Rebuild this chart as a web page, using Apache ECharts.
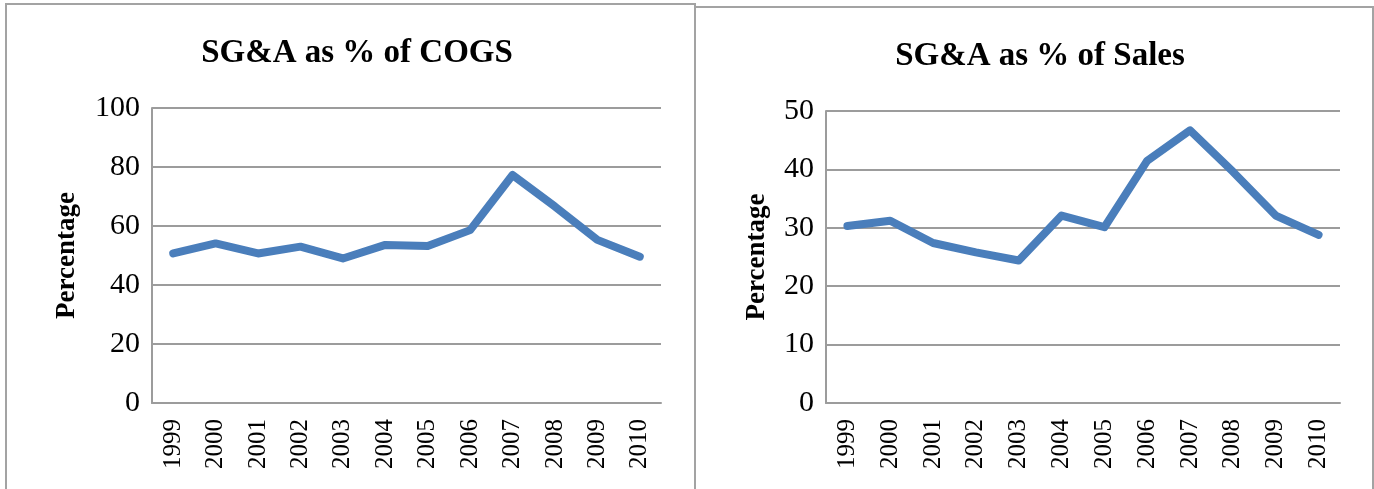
<!DOCTYPE html>
<html>
<head>
<meta charset="utf-8">
<style>
  html, body { margin: 0; padding: 0; background: #ffffff; }
  #chart { width: 1374px; height: 489px; }
</style>
<script src="https://cdn.jsdelivr.net/npm/echarts@6/dist/echarts.min.js"></script>
</head>
<body>
<div id="chart"></div>
<script>
// Fiscal years shared by both panels
const years = ['1999','2000','2001','2002','2003','2004','2005','2006','2007','2008','2009','2010'];

// SG&A expressed as a percentage of cost of goods sold
const sgaPctCogs = [50.7, 54.1, 50.7, 53.0, 49.0, 53.6, 53.2, 58.6, 77.3, 66.6, 55.3, 49.6];

// SG&A expressed as a percentage of sales
const sgaPctSales = [30.3, 31.2, 27.4, 25.8, 24.4, 32.1, 30.1, 41.5, 46.7, 39.6, 32.1, 28.8];

const leftTitle = 'SG&A as % of COGS';
const rightTitle = 'SG&A as % of Sales';
const yName = 'Percentage';

const serif = '"Liberation Serif", "Times New Roman", serif';
const gridColor = '#9c9c9c';
const lineColor = '#4a7ebb';

function xAxisFor(gridIndex) {
  return {
    type: 'category',
    gridIndex: gridIndex,
    data: years,
    boundaryGap: true,
    axisLine: { show: true, lineStyle: { color: gridColor, width: 2 } },
    axisTick: { show: false },
    axisLabel: {
      rotate: 90,
      margin: 16,
      color: '#000',
      fontFamily: serif,
      fontSize: 25
    }
  };
}

function yAxisFor(gridIndex, max, interval, nameGap) {
  return {
    type: 'value',
    gridIndex: gridIndex,
    min: 0,
    max: max,
    interval: interval,
    name: yName,
    nameLocation: 'middle',
    nameGap: nameGap,
    nameTextStyle: { color: '#000', fontFamily: serif, fontSize: 27, fontWeight: 'bold' },
    axisLine: { show: true, lineStyle: { color: gridColor, width: 2 } },
    axisTick: { show: false },
    splitLine: { show: true, lineStyle: { color: gridColor, width: 2 } },
    axisLabel: { color: '#000', fontFamily: serif, fontSize: 30, margin: 12 }
  };
}

function lineSeries(index, values) {
  return {
    type: 'line',
    xAxisIndex: index,
    yAxisIndex: index,
    data: values,
    showSymbol: false,
    symbol: 'none',
    smooth: false,
    lineStyle: { color: lineColor, width: 8, cap: 'round', join: 'round' },
    animation: false
  };
}

const chart = echarts.init(document.getElementById('chart'), null, { renderer: 'canvas' });

chart.setOption({
  backgroundColor: '#ffffff',
  animation: false,
  title: [
    {
      text: leftTitle, left: 352, top: 32, textAlign: 'center',
      textStyle: { fontFamily: serif, fontWeight: 'bold', fontSize: 33, color: '#000' }
    },
    {
      text: rightTitle, left: 1035, top: 35, textAlign: 'center',
      textStyle: { fontFamily: serif, fontWeight: 'bold', fontSize: 33, color: '#000' }
    }
  ],
  graphic: [
    { type: 'rect', shape: { x: 6, y: 4, width: 689, height: 520 },
      style: { fill: 'none', stroke: '#a3a3a3', lineWidth: 2 }, z: 0 },
    { type: 'rect', shape: { x: 695, y: 7, width: 678, height: 520 },
      style: { fill: 'none', stroke: '#a3a3a3', lineWidth: 2 }, z: 0 }
  ],
  grid: [
    { left: 152, top: 108, width: 509, height: 295 },
    { left: 826, top: 111, width: 514, height: 292 }
  ],
  xAxis: [xAxisFor(0), xAxisFor(1)],
  yAxis: [yAxisFor(0, 100, 20, 71), yAxisFor(1, 50, 10, 55)],
  series: [lineSeries(0, sgaPctCogs), lineSeries(1, sgaPctSales)]
});
</script>
</body>
</html>
